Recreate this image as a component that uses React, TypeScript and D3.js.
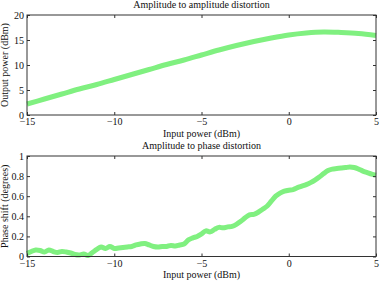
import * as d3 from 'd3';
import React, { useEffect, useRef } from 'react';

// AM/AM curve, sampled every 1 dBm
const amInput = [-15, -14, -13, -12, -11, -10, -9, -8, -7, -6, -5, -4, -3, -2, -1, 0, 1, 2, 3, 4, 5];
const amOutput = [2.2, 3.2, 4.2, 5.2, 6.1, 7.1, 8.1, 9.1, 10.1, 11.0, 12.0, 13.0, 13.9, 14.7, 15.4, 16.0, 16.4, 16.6, 16.5, 16.3, 15.9];

// AM/PM curve, sampled every 0.25 dBm
const pmInput = d3.range(81).map((i) => -15 + i * 0.25);
const pmPhase = [
  0.03, 0.05, 0.065, 0.06, 0.045, 0.065, 0.05, 0.04, 0.05, 0.045, 0.035, 0.02, 0.015, 0.025, 0.01, 0.04,
  0.07, 0.095, 0.08, 0.1, 0.08, 0.085, 0.09, 0.095, 0.1, 0.115, 0.125, 0.13, 0.115, 0.1, 0.095, 0.1,
  0.1, 0.11, 0.105, 0.115, 0.125, 0.165, 0.185, 0.2, 0.225, 0.255, 0.245, 0.27, 0.29, 0.285, 0.295, 0.3,
  0.32, 0.35, 0.385, 0.415, 0.42, 0.44, 0.47, 0.5, 0.55, 0.6, 0.63, 0.65, 0.66, 0.665, 0.685, 0.7,
  0.715, 0.735, 0.76, 0.79, 0.825, 0.855, 0.87, 0.875, 0.88, 0.885, 0.89, 0.885, 0.87, 0.85, 0.835, 0.82, 0.81,
];

const xTicks = [-15, -10, -5, 0, 5];
const amTicks = [0, 5, 10, 15, 20];
const pmTicks = [0, 0.2, 0.4, 0.6, 0.8, 1];

const width = 382;
const height = 285;
const left = 27;
const right = 376;
const font = 'Liberation Serif';
const axisColor = '#333';
const lineColor = '#80f080';

interface Panel {
  top: number;
  bottom: number;
  title: string;
  yLabel: string;
  yDomain: [number, number];
  yTicks: number[];
  xs: number[];
  ys: number[];
}

const panels: Panel[] = [
  {
    top: 15,
    bottom: 115,
    title: 'Amplitude to amplitude distortion',
    yLabel: 'Output power (dBm)',
    yDomain: [0, 20],
    yTicks: amTicks,
    xs: amInput,
    ys: amOutput,
  },
  {
    top: 156,
    bottom: 256.5,
    title: 'Amplitude to phase distortion',
    yLabel: 'Phase shift (degrees)',
    yDomain: [0, 1],
    yTicks: pmTicks,
    xs: pmInput,
    ys: pmPhase,
  },
];

const App: React.FC = () => {
  const svgRef = useRef<SVGSVGElement>(null);
  useEffect(() => {
    if (!svgRef.current) return;
    const svg = d3.select(svgRef.current);
    svg.selectAll('*').remove();
    svg.append('rect').attr('width', width).attr('height', height).attr('fill', '#fff');

    const xScale = d3.scaleLinear().domain([-15, 5]).range([left, right]);
    const minus = (d: number) => (d < 0 ? '\u2212' + Math.abs(d) : String(d));

    panels.forEach((p) => {
      const yScale = d3.scaleLinear().domain(p.yDomain).range([p.bottom, p.top]);
      const g = svg.append('g');

      // curve under the frame
      const line = d3
        .line<number>()
        .x((_, i) => xScale(p.xs[i]))
        .y((d) => yScale(d))
        .curve(d3.curveCatmullRom);
      g.append('path')
        .datum(p.ys)
        .attr('d', line)
        .attr('fill', 'none')
        .attr('stroke', lineColor)
        .attr('stroke-width', 5)
        .attr('stroke-linejoin', 'round');

      // bottom axis with inward ticks, mirrored on top
      g.append('g')
        .attr('transform', `translate(0,${p.bottom})`)
        .call(d3.axisBottom(xScale).tickValues(xTicks).tickSize(-3).tickPadding(3).tickFormat((d) => minus(d as number)))
        .call((a) => a.select('.domain').remove());
      g.append('g')
        .attr('transform', `translate(0,${p.top})`)
        .call(d3.axisTop(xScale).tickValues(xTicks).tickSize(-3).tickFormat(() => ''))
        .call((a) => a.select('.domain').remove());
      g.append('g')
        .attr('transform', `translate(${left},0)`)
        .call(d3.axisLeft(yScale).tickValues(p.yTicks).tickSize(-3).tickPadding(3).tickFormat((d) => String(d)))
        .call((a) => a.select('.domain').remove());
      g.append('g')
        .attr('transform', `translate(${right},0)`)
        .call(d3.axisRight(yScale).tickValues(p.yTicks).tickSize(-3).tickFormat(() => ''))
        .call((a) => a.select('.domain').remove());

      g.selectAll('.tick line').attr('stroke', axisColor);
      g.selectAll('g').attr('font-family', font).attr('font-size', 10);
      g.selectAll('.tick text').attr('fill', '#111');

      g.append('rect')
        .attr('x', left)
        .attr('y', p.top)
        .attr('width', right - left)
        .attr('height', p.bottom - p.top)
        .attr('fill', 'none')
        .attr('stroke', axisColor)
        .attr('stroke-width', 1);

      const label = (x: number, y: number, text: string, rotate = false) =>
        g.append('text')
          .attr('transform', `translate(${x},${y})${rotate ? ' rotate(-90)' : ''}`)
          .attr('text-anchor', 'middle')
          .attr('font-family', font)
          .attr('font-size', 10)
          .attr('fill', '#111')
          .text(text);

      label((left + right) / 2, p.top - 7, p.title);
      label((left + right) / 2, p.bottom + 21.5, 'Input power (dBm)');
      label(7.5, (p.top + p.bottom) / 2, p.yLabel, true);
    });
  }, []);
  return (
    <svg
      ref={svgRef}
      width={width}
      height={height}
      style={{ position: 'absolute', left: 0, top: 0 }}
    />
  );
};

export default App;
